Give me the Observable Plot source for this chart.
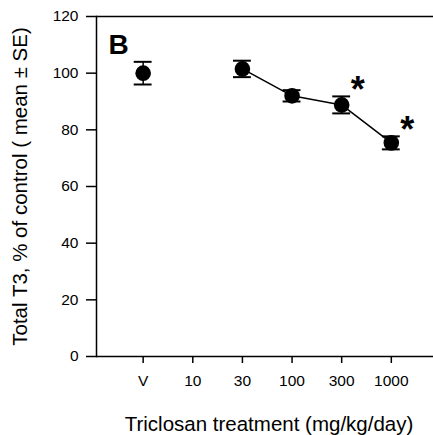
<!DOCTYPE html>
<html>
<head>
<meta charset="utf-8">
<script src="https://cdn.jsdelivr.net/npm/d3@7"></script>
<script src="https://cdn.jsdelivr.net/npm/@observablehq/plot@0.6"></script>
<style>
  body { margin: 0; background: #fff; }
  #chart svg { display: block; }
</style>
</head>
<body>
<div id="chart"></div>
<script>
// Data
const categories = ["V", "10", "30", "100", "300", "1000"];
const means      = [100, null, 101.5, 92, 88.8, 75.4];
const ses        = [4, null, 2.9, 2.0, 3.0, 2.3];
const significant = [false, false, false, false, true, true];
const yTicks = [0, 20, 40, 60, 80, 100, 120];
const panelLabel = "B";
const xTitle = "Triclosan treatment (mg/kg/day)";
const yTitle = "Total T3, % of control ( mean \u00B1 SE)";

const rows = categories.map((c, k) => ({
  i: k + 1, cat: c, mean: means[k], se: ses[k], sig: significant[k]
})).filter(d => d.mean != null);
const treated = rows.filter(d => d.cat !== "V");
const capHalf = 0.18;

const font = "'Liberation Sans', Arial, sans-serif";

const chart = Plot.plot({
  width: 433,
  height: 435,
  marginLeft: 96,
  marginRight: 0,
  marginTop: 16,
  marginBottom: 79,
  style: { fontFamily: font, color: "#000", background: "#fff" },
  x: { type: "linear", domain: [0.06, 6.85] },
  y: { domain: [0, 120] },
  marks: [
    Plot.frame({ anchor: "left", stroke: "#000", strokeWidth: 1.5 }),
    Plot.ruleY([0, 120], { stroke: "#000", strokeWidth: 1.5 }),
    Plot.axisY({ ticks: yTicks, tickSize: 10, tickPadding: 8, fontSize: 15.5, label: null, stroke: "#000", strokeWidth: 1.5 }),
    Plot.axisX({ ticks: categories.map((c, k) => k + 1), tickFormat: v => categories[v - 1], tickSize: 7, tickPadding: 11, fontSize: 15.5, label: null, stroke: "#000", strokeWidth: 1.5 }),
    Plot.line(treated, { x: "i", y: "mean", stroke: "#000", strokeWidth: 1.5 }),
    Plot.ruleX(rows, { x: "i", y1: d => d.mean - d.se, y2: d => d.mean + d.se, stroke: "#000", strokeWidth: 1.5 }),
    Plot.ruleY(rows, { y: d => d.mean + d.se, x1: d => d.i - capHalf, x2: d => d.i + capHalf, stroke: "#000", strokeWidth: 2 }),
    Plot.ruleY(rows, { y: d => d.mean - d.se, x1: d => d.i - capHalf, x2: d => d.i + capHalf, stroke: "#000", strokeWidth: 2 }),
    Plot.dot(rows, { x: "i", y: "mean", r: 7.8, fill: "#000", stroke: "none" }),
    Plot.text(rows.filter(d => d.sig), { x: "i", y: d => d.mean + d.se, text: () => "*", dx: 16, dy: 6, fontSize: 36, fontWeight: "bold", textAnchor: "middle", lineAnchor: "bottom", fill: "#000" }),
    Plot.text([panelLabel], { frameAnchor: "top-left", text: d => d, dx: 12, dy: 18, fontSize: 28, fontWeight: "bold", textAnchor: "start", lineAnchor: "top", fill: "#000" }),
    Plot.text([xTitle], { frameAnchor: "bottom", text: d => d, dx: 4, dy: 68, fontSize: 20.5, textAnchor: "middle", lineAnchor: "middle", fill: "#000" }),
    Plot.text([yTitle], { frameAnchor: "left", text: d => d, dx: -76, rotate: -90, fontSize: 20.5, textAnchor: "middle", lineAnchor: "middle", fill: "#000" })
  ]
});
document.getElementById("chart").appendChild(chart);
</script>
</body>
</html>
